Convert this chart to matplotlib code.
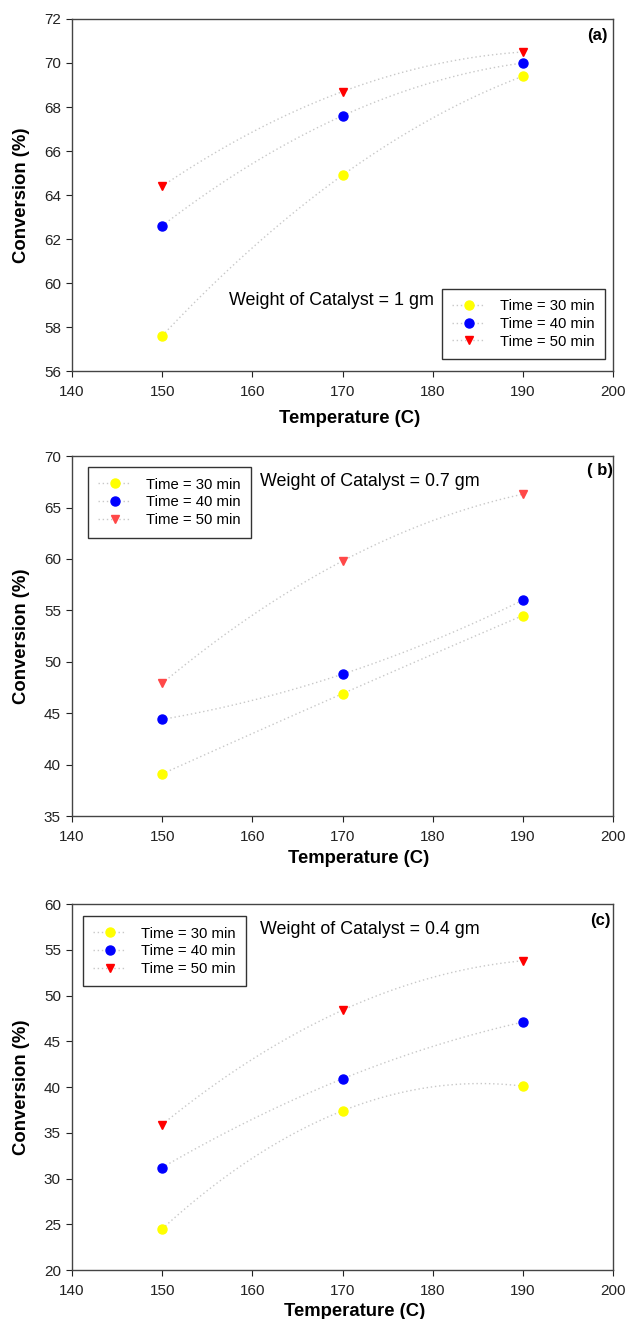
import numpy as np
import matplotlib
matplotlib.use("Agg")
import matplotlib.pyplot as plt

plt.rcParams['font.family'] = ['Liberation Sans', 'DejaVu Sans']

temps = [150, 170, 190]
series_labels = ["Time = 30 min", "Time = 40 min", "Time = 50 min"]

a_30 = [57.6, 64.9, 69.4]
a_40 = [62.6, 67.6, 70.0]
a_50 = [64.4, 68.7, 70.5]

b_30 = [39.1, 46.9, 54.5]
b_40 = [44.4, 48.8, 56.0]
b_50 = [47.9, 59.8, 66.3]

c_30 = [24.5, 37.4, 40.1]
c_40 = [31.2, 40.9, 47.1]
c_50 = [35.9, 48.4, 53.8]

panels = [
    dict(data=[a_30, a_40, a_50], ylim=(56, 72), yticks=np.arange(56, 73, 2),
         note="Weight of Catalyst = 1 gm", note_xy=(157.4, 59.2), tag="(a)", tag_xy=(0.989, 0.952),
         rect=[0.1148, 0.7187, 0.863, 0.2669], red="#ff0000", xlab=(0.514, -0.136),
         leg=dict(loc='lower right', bbox_to_anchor=(0.985, 0.034))),
    dict(data=[b_30, b_40, b_50], ylim=(35, 70), yticks=np.arange(35, 71, 5),
         note="Weight of Catalyst = 0.7 gm", note_xy=(160.9, 67.5), tag="( b)", tag_xy=(1.0, 0.961),
         rect=[0.1148, 0.3813, 0.863, 0.2729], red="#ff4848", xlab=(0.529, -0.117),
         leg=dict(loc='upper left', bbox_to_anchor=(0.0296, 0.969))),
    dict(data=[c_30, c_40, c_50], ylim=(20, 60), yticks=np.arange(20, 61, 5),
         note="Weight of Catalyst = 0.4 gm", note_xy=(160.8, 57.2), tag="(c)", tag_xy=(0.996, 0.956),
         rect=[0.1148, 0.0371, 0.863, 0.2775], red="#ff0000", xlab=(0.523, -0.112),
         leg=dict(loc='upper left', bbox_to_anchor=(0.020, 0.967))),
]

fig = plt.figure(figsize=(6.27, 13.19), dpi=100)
fig.patch.set_facecolor('white')

for i, p in enumerate(panels):
    ax = fig.add_axes(p['rect'])
    colors = ["#ffff00", "#0000ff", p['red']]
    markers = ['o', 'o', 'v']
    for vals, col, mk, lab in zip(p['data'], colors, markers, series_labels):
        coef = np.polyfit(temps, vals, 2)
        xs = np.linspace(temps[0], temps[-1], 100)
        ax.plot(xs, np.polyval(coef, xs), linestyle=(0, (1, 2)), color="#c8c8c8", lw=1.0, zorder=1)
        ax.plot(temps, vals, linestyle='none', marker=mk, color=col, ms=6.5 if mk == 'o' else 6,
                markeredgecolor=col, zorder=3)
        ax.plot([], [], linestyle=(0, (1, 2)), color="#c8c8c8", lw=1.0, marker=mk, ms=6.5 if mk == 'o' else 6,
                markerfacecolor=col, markeredgecolor=col, label=lab)
    ax.set_xlim(140, 200)
    ax.set_ylim(*p['ylim'])
    ax.set_xticks(np.arange(140, 201, 10))
    ax.set_yticks(p['yticks'])
    ax.tick_params(direction='out', length=4, width=0.8, labelsize=11, colors='#222222')
    ax.tick_params(axis='x', pad=6)
    ax.tick_params(axis='y', pad=4)
    for s in ax.spines.values():
        s.set_color('#444444')
        s.set_linewidth(1.0)
    ax.set_xlabel("Temperature (C)", fontsize=13.3, fontweight='bold')
    ax.xaxis.set_label_coords(p['xlab'][0], p['xlab'][1])
    ax.xaxis.label.set_va('center')
    ax.set_ylabel("Conversion (%)", fontsize=13.3, fontweight='bold', labelpad=10)
    ax.text(p['note_xy'][0], p['note_xy'][1], p['note'], fontsize=12.9, va='center', ha='left')
    ax.text(p['tag_xy'][0], p['tag_xy'][1], p['tag'], fontsize=12, fontweight='bold',
            ha='right', va='center', transform=ax.transAxes)
    leg = ax.legend(prop={'size': 10.7}, frameon=True, fancybox=False, edgecolor='black',
                    handlelength=2.2, borderpad=0.7, labelspacing=0.25, handletextpad=1.0,
                    borderaxespad=0, **p['leg'])
    leg.get_frame().set_linewidth(1.0)

fig.savefig("out.png", dpi=100, facecolor='white')
